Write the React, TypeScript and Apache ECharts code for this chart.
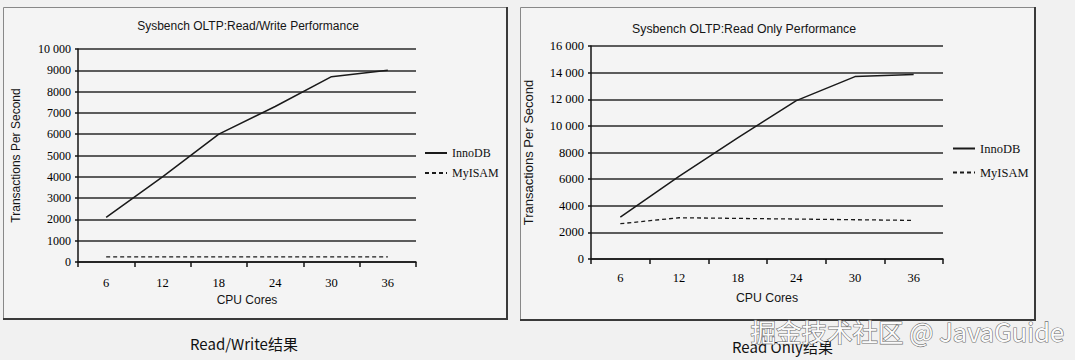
import React, { useEffect, useRef } from "react";
import * as echarts from "echarts";

const categories = ["6", "12", "18", "24", "30", "36"];
const rwInnoDB = [2100, 4000, 6000, 7300, 8700, 9000];
const rwMyISAM = [240, 240, 240, 240, 240, 240];
const roInnoDB = [3150, 6200, 9100, 11900, 13700, 13850];
const roMyISAM = [2650, 3100, 3050, 3000, 2950, 2900];
const seriesNames = ["InnoDB", "MyISAM"];
const titles = ["Sysbench OLTP:Read/Write Performance", "Sysbench OLTP:Read Only Performance"];
const captions = ["Read/Write结果", "Read Only结果"];
const watermark = "掘金技术社区 @ JavaGuide";

const SERIF = "'Liberation Serif', 'Times New Roman', serif";
const SANS = "'Liberation Sans', Arial, sans-serif";
const CJK = "'Noto Sans CJK SC', 'Noto Sans', sans-serif";

const fmt = (v: number) =>
  v >= 10000 ? `${Math.floor(v / 1000)} ${String(v % 1000).padStart(3, "0")}` : String(v);

function makeX(gridIndex: number, labelSize: number, margin: number, nameGap: number, nameSize: number) {
  return {
    type: "category",
    gridIndex,
    data: categories,
    boundaryGap: true,
    axisLine: { show: true, lineStyle: { color: "#151515", width: 1.5 } },
    axisTick: { show: true, length: 5, lineStyle: { color: "#151515", width: 1.5 } },
    axisLabel: { fontFamily: SERIF, fontSize: labelSize, color: "#000", margin },
    name: "CPU Cores",
    nameLocation: "middle",
    nameGap,
    nameTextStyle: { fontFamily: SANS, fontSize: nameSize, color: "#151515" },
  };
}

function makeY(gridIndex: number, max: number, interval: number, size: number, nameSize: number) {
  return {
    type: "value",
    gridIndex,
    min: 0,
    max,
    interval,
    axisLine: { show: true, lineStyle: { color: "#151515", width: 1.5 } },
    axisTick: { show: true, length: 3, lineStyle: { color: "#151515", width: 1.5 } },
    axisLabel: { fontFamily: SERIF, fontSize: size, color: "#000", margin: 7, formatter: fmt },
    splitLine: { show: true, lineStyle: { color: "#2a2a2a", width: 1.5 } },
    name: "Transactions Per Second",
    nameLocation: "middle",
    nameRotate: 90,
    nameGap: 56,
    nameTextStyle: { fontFamily: SANS, fontSize: nameSize, color: "#151515" },
  };
}

function line(name: string, data: number[], idx: number, dashed: boolean) {
  return {
    type: "line",
    name,
    xAxisIndex: idx,
    yAxisIndex: idx,
    data,
    symbol: "none",
    showSymbol: false,
    lineStyle: { color: "#1a1a1a", width: dashed ? 1.3 : 1.5, type: dashed ? [4, 3] : "solid" },
    itemStyle: { color: "#1a1a1a" },
  };
}

export default function App() {
  const ref = useRef<HTMLDivElement>(null);
  useEffect(() => {
    if (!ref.current) return;
    const chart = echarts.init(ref.current, null, { renderer: "svg" });
    chart.setOption({
      animation: false,
      backgroundColor: "#f1f1f1",
      title: [
        {
          text: titles[0],
          left: 248,
          top: 20,
          textAlign: "center",
          padding: 0,
          textStyle: { fontFamily: SANS, fontSize: 12, fontWeight: "normal", color: "#151515" },
        },
        {
          text: titles[1],
          left: 744,
          top: 23,
          textAlign: "center",
          padding: 0,
          textStyle: { fontFamily: SANS, fontSize: 12.3, fontWeight: "normal", color: "#151515" },
        },
      ],
      legend: [
        {
          data: seriesNames,
          orient: "vertical",
          left: 424,
          top: 147,
          padding: 0,
          itemWidth: 22,
          itemHeight: 14,
          itemGap: 8,
          itemStyle: { opacity: 0 },
          textStyle: { fontFamily: SERIF, fontSize: 12, color: "#111" },
        },
        {
          data: seriesNames,
          orient: "vertical",
          left: 952,
          top: 142,
          padding: 0,
          itemWidth: 22,
          itemHeight: 14,
          itemGap: 11,
          itemStyle: { opacity: 0 },
          textStyle: { fontFamily: SERIF, fontSize: 12.5, color: "#111" },
        },
      ],
      grid: [
        { left: 78, top: 49, width: 338, height: 213, containLabel: false },
        { left: 591, top: 46, width: 352, height: 213, containLabel: false },
      ],
      xAxis: [makeX(0, 12.5, 14, 32, 12), makeX(1, 12.5, 12, 33, 12.3)],
      yAxis: [makeY(0, 10000, 1000, 12, 12), makeY(1, 16000, 2000, 12.5, 13)],
      series: [
        line(seriesNames[0], rwInnoDB, 0, false),
        line(seriesNames[1], rwMyISAM, 0, true),
        line(seriesNames[0], roInnoDB, 1, false),
        line(seriesNames[1], roMyISAM, 1, true),
      ],
      graphic: [
        {
          type: "rect",
          z: -10,
          silent: true,
          shape: { x: 3.5, y: 7.5, width: 503, height: 311 },
          style: { fill: "#f4f4f4", stroke: "#888", lineWidth: 1 },
        },
        {
          type: "polyline",
          z: -9,
          silent: true,
          shape: { points: [[507, 7], [507, 319], [3, 319]] },
          style: { fill: null, stroke: "#3a3a3a", lineWidth: 2 },
        },
        {
          type: "rect",
          z: -10,
          silent: true,
          shape: { x: 520.5, y: 7.5, width: 514, height: 312 },
          style: { fill: "#f4f4f4", stroke: "#888", lineWidth: 1 },
        },
        {
          type: "polyline",
          z: -9,
          silent: true,
          shape: { points: [[1035, 7], [1035, 320], [520, 320]] },
          style: { fill: null, stroke: "#3a3a3a", lineWidth: 2 },
        },
        {
          type: "text",
          left: 190,
          top: 336,
          style: { text: captions[0], fontFamily: CJK, fontSize: 15, fill: "#111" },
        },
        {
          type: "text",
          left: 732,
          top: 339,
          style: { text: captions[1], fontFamily: CJK, fontSize: 15, fill: "#111" },
        },
        {
          type: "text",
          left: 750,
          top: 317,
          z: 100,
          style: {
            text: watermark,
            fontFamily: CJK,
            fontSize: 25.5,
            fill: "#fbfbfb",
            stroke: "#707070",
            lineWidth: 1.2,
          },
        },
      ],
    });
    return () => chart.dispose();
  }, []);
  return (
    <div
      ref={ref}
      style={{ position: "absolute", left: 0, top: 0, width: 1075, height: 360 }}
    />
  );
}
